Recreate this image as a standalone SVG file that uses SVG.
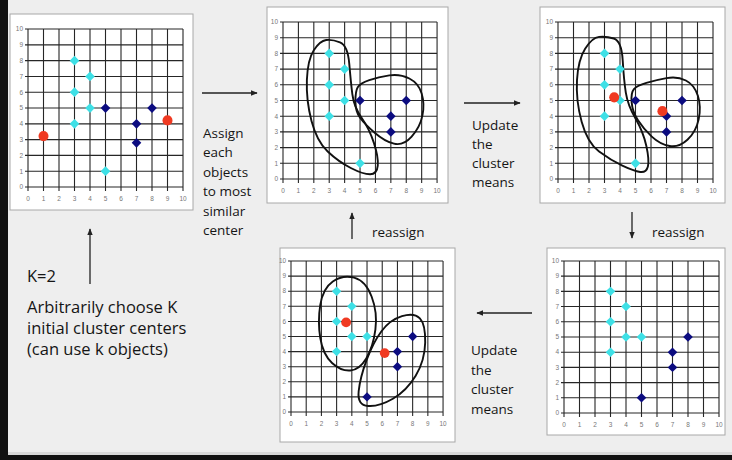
<svg xmlns="http://www.w3.org/2000/svg" xmlns:xlink="http://www.w3.org/1999/xlink" width="732" height="460" viewBox="0 0 732 460">
<style>
.frame{fill:#fff;stroke:#a8a8a8;stroke-width:1}
.grid{fill:none;stroke:#262626;stroke-width:1.1}
.ax{font-family:"Liberation Sans",Arial,sans-serif;font-size:6.5px;fill:#777}
.axy{text-anchor:end}
.axx{text-anchor:middle}
.cy{fill:#3ee0e6}
.nv{fill:#0c0c80}
.rd{fill:#f03a22}
.loop{fill:none;stroke:#111;stroke-width:1.9;vector-effect:non-scaling-stroke;stroke-linejoin:round}
.lbl{font-family:"Open Sans",sans-serif;font-size:13.5px;fill:#151515}
.big{font-size:16.5px}
.conn line{stroke:#222;stroke-width:1.3;marker-end:url(#ah)}
</style>
<defs>
<marker id="ah" viewBox="0 0 10 10" refX="9" refY="5" markerWidth="7" markerHeight="7" orient="auto" markerUnits="userSpaceOnUse"><path d="M0,1L10,5L0,9Z" fill="#222"/></marker>
<path id="dm" d="M0,-4.8L4.8,0L0,4.8L-4.8,0Z"/>
<circle id="dot" r="5"/>
<g id="grid">
<path class="grid" d="M0,4V-155M15.5,4V-155M31,4V-155M46.5,4V-155M62,4V-155M77.5,4V-155M93,4V-155M108.5,4V-155M124,4V-155M139.5,4V-155M155,4V-155M-3,0H155M-3,-15.5H155M-3,-31H155M-3,-46.5H155M-3,-62H155M-3,-77.5H155M-3,-93H155M-3,-108.5H155M-3,-124H155M-3,-139.5H155M-3,-155H155"/>
<g class="ax axy">
<text x="-5" y="2.3">0</text><text x="-5" y="-13.2">1</text><text x="-5" y="-28.7">2</text><text x="-5" y="-44.2">3</text><text x="-5" y="-59.7">4</text><text x="-5" y="-75.2">5</text><text x="-5" y="-90.7">6</text><text x="-5" y="-106.2">7</text><text x="-5" y="-121.7">8</text><text x="-5" y="-137.2">9</text><text x="-5" y="-152.7">10</text>
</g>
<g class="ax axx">
<text x="0" y="14">0</text><text x="15.5" y="14">1</text><text x="31" y="14">2</text><text x="46.5" y="14">3</text><text x="62" y="14">4</text><text x="77.5" y="14">5</text><text x="93" y="14">6</text><text x="108.5" y="14">7</text><text x="124" y="14">8</text><text x="139.5" y="14">9</text><text x="155" y="14">10</text>
</g>
</g>
</defs>

<rect x="0" y="0" width="732" height="460" fill="#eeeeee"/>
<rect x="0" y="0" width="8" height="460" fill="#111"/>
<rect x="0" y="455" width="732" height="5" fill="#111"/>
<rect x="8" y="452" width="724" height="3" fill="#d8d8d8"/>

<g id="panel1">
<rect class="frame" x="10" y="14" width="183" height="196"/>
<g transform="translate(28,187) scale(1,1.019)">
<use xlink:href="#grid"/>
<g class="cy"><use xlink:href="#dm" x="46.5" y="-124"/><use xlink:href="#dm" x="62" y="-108.5"/><use xlink:href="#dm" x="46.5" y="-93"/><use xlink:href="#dm" x="62" y="-77.5"/><use xlink:href="#dm" x="46.5" y="-62"/><use xlink:href="#dm" x="77.5" y="-15.5"/></g>
<g class="nv"><use xlink:href="#dm" x="77.5" y="-77.5"/><use xlink:href="#dm" x="108.5" y="-62"/><use xlink:href="#dm" x="108.5" y="-43.4"/><use xlink:href="#dm" x="124" y="-77.5"/></g>
<g class="rd"><use xlink:href="#dot" x="15.5" y="-50"/><use xlink:href="#dot" x="139.5" y="-65.3"/></g>
</g>
</g>

<g id="panel2">
<rect class="frame" x="267" y="7" width="181" height="196"/>
<g transform="translate(283,179) scale(0.994,1.013)">
<use xlink:href="#grid"/>
<path class="loop" transform="scale(15.5,-15.5)" d="M2.8,8.85Q3.2,8.9 3.7,8.7Q4.2,8.5 4.3,7.35Q4.4,6.2 4.5,5.4Q4.6,4.6 5.1,3.9Q5.6,3.2 5.9,2.3Q6.2,1.4 6.15,0.85Q6.1,0.3 5.65,0.3Q5.2,0.3 4.4,0.7Q3.6,1.1 2.9,1.75Q2.2,2.4 1.85,3.7Q1.5,5 1.55,6.3Q1.6,7.6 2,8.2Q2.4,8.8 2.8,8.85Z"/>
<path class="loop" transform="scale(15.5,-15.5)" d="M4.85,5.85Q5,6.1 5.6,6.3Q6.2,6.5 6.9,6.6Q7.6,6.7 8.2,6.4Q8.8,6.1 9,5.45Q9.2,4.8 9.05,4.05Q8.9,3.3 8.35,2.7Q7.8,2.1 7.2,2.25Q6.6,2.4 5.95,2.95Q5.3,3.5 5,3.9Q4.7,4.3 4.7,4.950Q4.7,5.6 4.85,5.85Z"/>
<g class="cy"><use xlink:href="#dm" x="46.5" y="-124"/><use xlink:href="#dm" x="62" y="-108.5"/><use xlink:href="#dm" x="46.5" y="-93"/><use xlink:href="#dm" x="62" y="-77.5"/><use xlink:href="#dm" x="46.5" y="-62"/><use xlink:href="#dm" x="77.5" y="-15.5"/></g>
<g class="nv"><use xlink:href="#dm" x="77.5" y="-77.5"/><use xlink:href="#dm" x="108.5" y="-62"/><use xlink:href="#dm" x="108.5" y="-46.5"/><use xlink:href="#dm" x="124" y="-77.5"/></g>
</g>
</g>

<g id="panel3">
<rect class="frame" x="540" y="7" width="185" height="196"/>
<g transform="translate(558,179) scale(1,1.013)">
<use xlink:href="#grid"/>
<path class="loop" transform="scale(15.5,-15.5)" d="M2.65,9.05Q3.1,9.1 3.6,8.95Q4.1,8.8 4.175,7.55Q4.25,6.3 4.375,5.5Q4.5,4.7 5,3.85Q5.5,3 5.7,2.1Q5.9,1.2 5.8,0.8Q5.7,0.4 5.3,0.45Q4.9,0.5 4.15,0.85Q3.4,1.2 2.65,1.75Q1.9,2.3 1.525,3.65Q1.15,5 1.225,6.3Q1.3,7.6 1.75,8.3Q2.2,9 2.65,9.05Z"/>
<path class="loop" transform="scale(15.5,-15.5)" d="M4.9,5.725Q5.1,5.95 5.7,6.125Q6.3,6.3 7,6.425Q7.7,6.55 8.25,6.275Q8.8,6 9.025,5.3Q9.25,4.6 9.075,3.8Q8.9,3 8.35,2.5Q7.8,2 7.2,2.1Q6.6,2.2 6.05,2.7Q5.5,3.2 5.15,3.75Q4.8,4.3 4.75,4.9Q4.7,5.5 4.9,5.725Z"/>
<g class="cy"><use xlink:href="#dm" x="46.5" y="-124"/><use xlink:href="#dm" x="62" y="-108.5"/><use xlink:href="#dm" x="46.5" y="-93"/><use xlink:href="#dm" x="62" y="-77.5"/><use xlink:href="#dm" x="46.5" y="-62"/><use xlink:href="#dm" x="77.5" y="-15.5"/></g>
<g class="nv"><use xlink:href="#dm" x="77.5" y="-77.5"/><use xlink:href="#dm" x="108.5" y="-62"/><use xlink:href="#dm" x="108.5" y="-46.5"/><use xlink:href="#dm" x="124" y="-77.5"/></g>
<g class="rd"><use xlink:href="#dot" x="56.2" y="-80.6"/><use xlink:href="#dot" x="104.4" y="-67"/></g>
</g>
</g>

<g id="panel4">
<rect class="frame" x="280" y="248" width="175" height="194"/>
<g transform="translate(291,412) scale(0.981,0.974)">
<use xlink:href="#grid"/>
<path class="loop" transform="scale(15.5,-15.5)" d="M2.75,8.65Q3.4,9.1 4.15,8.9Q4.9,8.7 5.3,7.65Q5.7,6.6 5.55,5.45Q5.4,4.3 4.95,3.55Q4.5,2.8 3.9,2.75Q3.3,2.7 2.7,3.25Q2.1,3.8 1.925,4.9Q1.75,6 1.925,7.1Q2.1,8.2 2.75,8.65Z"/>
<path class="loop" transform="scale(15.5,-15.5)" d="M4.975,3.45Q5.4,4.6 5.95,5.35Q6.5,6.1 7.3,6.35Q8.1,6.6 8.475,6.2Q8.85,5.8 8.825,4.6Q8.8,3.4 8.2,2.4Q7.6,1.4 6.7,0.875Q5.8,0.35 5.075,0.4Q4.35,0.45 4.45,1.375Q4.55,2.3 4.975,3.45Z"/>
<g class="cy"><use xlink:href="#dm" x="46.5" y="-124"/><use xlink:href="#dm" x="62" y="-108.5"/><use xlink:href="#dm" x="46.5" y="-93"/><use xlink:href="#dm" x="62" y="-77.5"/><use xlink:href="#dm" x="77.5" y="-77.5"/><use xlink:href="#dm" x="46.5" y="-62"/></g>
<g class="nv"><use xlink:href="#dm" x="124" y="-77.5"/><use xlink:href="#dm" x="108.5" y="-62"/><use xlink:href="#dm" x="108.5" y="-46.5"/><use xlink:href="#dm" x="77.5" y="-15.5"/></g>
<g class="rd"><use xlink:href="#dot" x="56.2" y="-92"/><use xlink:href="#dot" x="95.5" y="-60.5"/></g>
</g>
</g>

<g id="panel5">
<rect class="frame" x="547" y="248" width="178" height="187"/>
<g transform="translate(564,413) scale(1,0.981)">
<use xlink:href="#grid"/>
<g class="cy"><use xlink:href="#dm" x="46.5" y="-124"/><use xlink:href="#dm" x="62" y="-108.5"/><use xlink:href="#dm" x="46.5" y="-93"/><use xlink:href="#dm" x="62" y="-77.5"/><use xlink:href="#dm" x="77.5" y="-77.5"/><use xlink:href="#dm" x="46.5" y="-62"/></g>
<g class="nv"><use xlink:href="#dm" x="124" y="-77.5"/><use xlink:href="#dm" x="108.5" y="-62"/><use xlink:href="#dm" x="108.5" y="-46.5"/><use xlink:href="#dm" x="77.5" y="-15.5"/></g>
</g>
</g>

<g id="connectors" class="conn">
<line x1="202" y1="93" x2="257" y2="93"/>
<line x1="464" y1="103" x2="520" y2="103"/>
<line x1="632" y1="212" x2="632" y2="238"/>
<line x1="532" y1="313" x2="477" y2="313"/>
<line x1="352" y1="239" x2="352" y2="213"/>
<line x1="90" y1="284" x2="90" y2="229"/>
</g>

<g id="labels" class="lbl">
<text x="203" y="138">Assign</text>
<text x="203" y="157.4">each</text>
<text x="203" y="176.8">objects</text>
<text x="203" y="196.2">to most</text>
<text x="203" y="215.6">similar</text>
<text x="203" y="235">center</text>
<text x="472" y="130">Update</text>
<text x="472" y="149">the</text>
<text x="472" y="168">cluster</text>
<text x="472" y="187">means</text>
<text x="372" y="237">reassign</text>
<text x="652" y="237">reassign</text>
<text x="471" y="355">Update</text>
<text x="471" y="374.5">the</text>
<text x="471" y="394">cluster</text>
<text x="471" y="413.5">means</text>
<text class="big" x="27" y="282">K=2</text>
<text class="big" x="27" y="313">Arbitrarily choose K</text>
<text class="big" x="27" y="334">initial cluster centers</text>
<text class="big" x="27" y="355">(can use k objects)</text>
</g>
</svg>
